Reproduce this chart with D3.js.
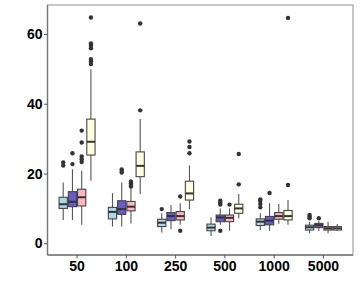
<!DOCTYPE html>
<html><head><meta charset="utf-8">
<script src="https://cdn.jsdelivr.net/npm/d3@7"></script>
<style>body{margin:0;background:#fff}svg{display:block}</style>
</head><body><div id="chart"></div>
<script>
const categories = ["50","100","250","500","1000","5000"];
const groups = ["A","B","C","D"];
const colors = ["#ADD8E6","#6A5ACD","#FFB6C1","#FFFFE0"];
const yTicks = [0,20,40,60];
// per category, per group: [lowerWhisker, Q1, median, Q3, upperWhisker]
const stats50   = [[6.7,10.0,11.2,13.2,17.4],[6.7,10.5,11.9,14.8,21.2],[5.3,10.7,13.2,15.5,20.8],[17.9,25.3,29.1,35.6,49.8]];
const stats100  = [[4.8,7.0,9.0,10.3,14.4],[4.8,8.3,9.8,12.2,17.4],[5.7,9.3,10.5,12.0,15.8],[14.1,19.1,22.2,26.2,35.6]];
const stats250  = [[3.1,4.8,5.9,6.9,8.6],[4.0,6.5,7.8,8.8,11.0],[5.3,6.7,7.8,9.1,11.5],[9.8,12.4,14.3,17.8,22.3]];
const stats500  = [[2.1,3.6,4.5,5.5,7.5],[5.3,6.2,7.4,8.1,10.0],[3.6,6.2,7.3,8.1,10.0],[7.2,8.6,10.0,11.2,14.1]];
const stats1000 = [[3.8,5.1,6.2,7.0,8.6],[3.6,5.3,6.5,7.7,11.5],[5.6,6.9,7.8,8.8,11.3],[5.3,6.7,7.8,9.4,12.4]];
const stats5000 = [[2.9,3.8,4.6,5.2,6.2],[3.5,4.5,5.2,5.7,6.4],[2.9,3.8,4.3,4.8,6.2],[3.5,3.8,4.3,4.8,5.5]];
const out50   = [[22.3,23.2],[22.7,25.8],[23.3,24.1,24.9,28.9,32.3],[51.4,52.2,52.8,55.9,56.7,57.3,64.7]];
const out100  = [[],[20.3,20.7,21.2],[16.3,16.7,17.2,17.7],[38.1,63.0]];
const out250  = [[9.8],[],[3.6,13.4],[25.8,27.6,29.2]];
const out500  = [[],[3.6,11.1,11.7,12.2],[11.1],[16.9,25.6]];
const out1000 = [[10.3,11.3,12.1,12.6],[14.4],[],[16.7,64.6]];
const out5000 = [[7.2,7.7,8.1],[7.2],[],[]];
const allStats = [stats50,stats100,stats250,stats500,stats1000,stats5000];
const allOut = [out50,out100,out250,out500,out1000,out5000];

const W=360,H=300;
const m={l:47.5,r:7,t:5,b:45};
const svg=d3.select("#chart").append("svg").attr("width",W).attr("height",H);
const x=d3.scaleBand().domain(categories).range([m.l,W-m.r]).paddingOuter(0.1).paddingInner(0);
const y=d3.scaleLinear().domain([-3.35,68.3]).range([H-m.b,m.t]);
const bw=x.bandwidth();
const dodge=d3.scaleBand().domain(groups).range([0,bw*0.75]);

// panel border
svg.append("rect").attr("x",m.l).attr("y",m.t).attr("width",W-m.r-m.l).attr("height",H-m.b-m.t)
  .attr("fill","none").attr("stroke","#aaa").attr("stroke-width",1.3);

categories.forEach((c,ci)=>{
  groups.forEach((g,gi)=>{
    const s=allStats[ci][gi];
    const x0=x(c)+bw*0.125+dodge(g);
    const w=dodge.bandwidth();
    const xc=x0+w/2;
    const G=svg.append("g");
    G.append("line").attr("x1",xc).attr("x2",xc).attr("y1",y(s[0])).attr("y2",y(s[1])).attr("stroke","#555").attr("stroke-width",1.1);
    G.append("line").attr("x1",xc).attr("x2",xc).attr("y1",y(s[3])).attr("y2",y(s[4])).attr("stroke","#555").attr("stroke-width",1.1);
    G.append("rect").attr("x",x0+0.5).attr("width",w-1).attr("y",y(s[3])).attr("height",y(s[1])-y(s[3]))
      .attr("fill",colors[gi]).attr("stroke","#444").attr("stroke-width",1.1);
    G.append("line").attr("x1",x0+0.5).attr("x2",x0+w-0.5).attr("y1",y(s[2])).attr("y2",y(s[2])).attr("stroke","#333").attr("stroke-width",2);
    allOut[ci][gi].forEach(v=>{
      G.append("circle").attr("cx",xc).attr("cy",y(v)).attr("r",2.2).attr("fill","#333");
    });
  });
});

const xa=svg.append("g").attr("transform",`translate(0,${H-m.b})`).call(d3.axisBottom(x).tickSize(3.5).tickPadding(3));
const ya=svg.append("g").attr("transform",`translate(${m.l},0)`).call(d3.axisLeft(y).tickValues(yTicks).tickSize(3.5).tickPadding(1.5));
[xa,ya].forEach(a=>{
  a.select(".domain").attr("stroke","#777").attr("stroke-width",1.3);
  a.selectAll(".tick line").attr("stroke","#555");
  a.selectAll("text").attr("font-family","Liberation Sans, Arial, sans-serif").attr("font-weight","bold").attr("font-size",14).attr("fill","#000");
});
xa.select(".domain").attr("d",`M${m.l},0H${W-m.r}`);
ya.select(".domain").attr("d",`M0,${m.t}V${H-m.b}`);
</script></body></html>
